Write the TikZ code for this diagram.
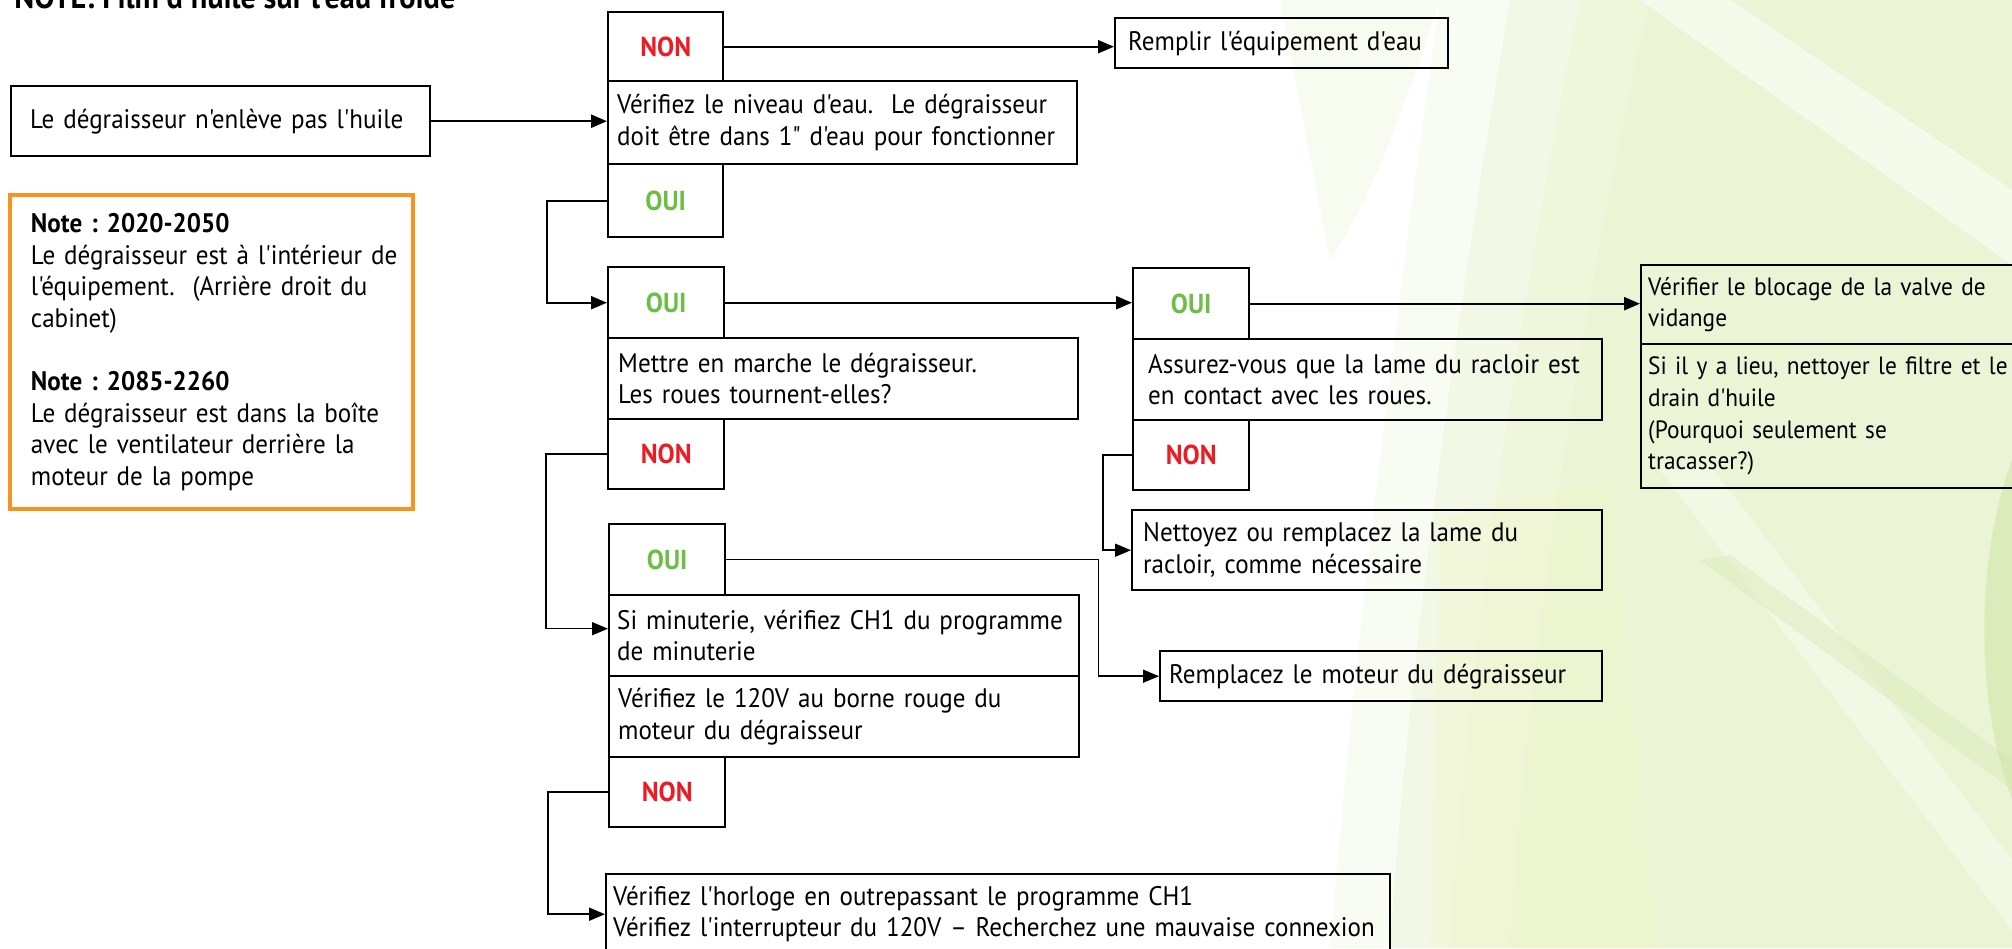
\documentclass[tikz,border=0pt]{standalone}
\usepackage{fontspec}
\setmainfont{PT Sans}[Ligatures=TeXOff, FakeStretch=0.935]
\usetikzlibrary{arrows.meta}
\definecolor{nonred}{RGB}{237,28,36}
\definecolor{ouigreen}{RGB}{108,190,69}
\definecolor{noteorange}{RGB}{247,147,30}
\definecolor{leafA}{RGB}{232,242,206}
\definecolor{leafB}{RGB}{210,230,168}
\definecolor{leafC}{RGB}{240,244,196}
\newcommand{\bodyfont}{\fontsize{13.4}{15.8}\selectfont}
\newcommand{\smallbody}{\fontsize{12.5}{15.8}\selectfont}
\frenchspacing
\begin{document}
\begin{tikzpicture}[x=0.5pt,y=-0.5pt,
  box/.style={draw, line width=1.2pt, anchor=north west, align=left, inner ysep=0pt, font=\bodyfont},
  lbl/.style={draw, line width=1.2pt, anchor=north west, inner sep=0pt, font=\bfseries\fontsize{13.7}{15}\selectfont},
  nonlbl/.style={lbl, text=nonred},
  ouilbl/.style={lbl, text=ouigreen},
  thk/.style={line width=1.2pt},
  med/.style={line width=1pt},
  thn/.style={line width=0.75pt},
  arr/.style={-{Triangle[length=8pt,width=6.5pt]}},
]
\useasboundingbox (0,0) rectangle (2012,948);
\clip (0,0) rectangle (2012,948);
% pale leaf background
\fill[leafA, opacity=.25] (1440,0) -- (2012,0) -- (2012,948) -- (1330,948) .. controls (1350,700) and (1390,350) .. (1440,0) -- cycle;
\fill[leafA, opacity=.35] (1510,0) -- (2012,0) -- (2012,948) -- (1390,948) .. controls (1405,700) and (1450,350) .. (1510,0) -- cycle;
\fill[leafA, opacity=.4] (1580,0) -- (2012,0) -- (2012,948) -- (1450,948) .. controls (1465,700) and (1510,350) .. (1580,0) -- cycle;
\fill[leafA, opacity=.4] (1650,0) -- (2012,0) -- (2012,948) -- (1510,948) .. controls (1525,700) and (1570,350) .. (1650,0) -- cycle;
\fill[leafC, opacity=.3] (1440,520) .. controls (1500,500) and (1560,490) .. (1610,480) -- (1660,948) -- (1430,948) -- cycle;
\fill[white, opacity=.5] (1640,0) -- (1730,0) -- (2012,190) -- (2012,265) -- cycle;
\fill[white, opacity=.35] (1660,470) -- (1710,465) -- (2012,860) -- (2012,930) -- cycle;
\fill[leafB, opacity=.35] (1700,560) -- (1730,555) -- (2012,760) -- (2012,790) -- cycle;
\fill[leafB, opacity=.6] (2012,460) .. controls (1975,560) and (1975,700) .. (2012,800) -- cycle;
\fill[leafA, opacity=.3] (1280,0) -- (1440,0) .. controls (1400,120) and (1370,200) .. (1330,260) -- cycle;

% title
\node[anchor=base west, inner sep=0pt, font=\bfseries\fontsize{16.2}{18}\selectfont] (title) at (14,8) {NOTE: Film d'huile sur l'eau froide};

% left column
\node[box, inner xsep=9.5pt, text width=190.5pt, minimum height=35pt] (A) at (10,85) {Le dégraisseur n'enlève pas l'huile};
\node[box, draw=noteorange, line width=2pt, inner xsep=10.5pt, text width=180.5pt, minimum height=157pt] (note) at (8,193)
  {\textbf{Note : 2020-2050}\\
   \mbox{Le dégraisseur est à l'intérieur de}\\
   l'équipement.\ \ (Arrière droit du\\
   cabinet)\\[15.8pt]
   \textbf{Note : 2085-2260}\\
   Le dégraisseur est dans la boîte\\
   avec le ventilateur derrière la\\
   moteur de la pompe};

% middle column
\node[nonlbl, minimum width=57.5pt, minimum height=34.5pt] (NON1) at (607,11) {NON};
\node[box, inner xsep=6.5pt, text width=153.5pt, minimum height=25pt] (R) at (1114,17) {\mbox{Remplir l'équipement d'eau}};
\node[box, inner xsep=4.5pt, text width=225.5pt, minimum height=41.5pt] (W) at (607,80) {Vérifiez le niveau d'eau.\ \ Le dégraisseur\\doit être dans 1" d'eau pour fonctionner};
\node[ouilbl, minimum width=57.5pt, minimum height=36.5pt] (OUI1) at (607,163) {OUI};
\node[ouilbl, minimum width=58pt, minimum height=35.5pt] (OUI2) at (607,266) {OUI};
\node[box, inner xsep=5pt, text width=225pt, minimum height=40.5pt] (M) at (607,337) {Mettre en marche le dégraisseur.\\Les roues tournent-elles?};
\node[nonlbl, minimum width=58pt, minimum height=35pt] (NON2) at (607,418) {NON};
\node[ouilbl, minimum width=58pt, minimum height=35.5pt] (OUI4) at (608,523) {OUI};
\node[box, inner xsep=4pt, text width=227pt, minimum height=40.5pt] (SI) at (608,594) {Si minuterie, vérifiez CH1 du programme\\de minuterie};
\node[box, inner xsep=4.5pt, text width=226pt, minimum height=40.5pt] (V120) at (608,675) {Vérifiez le 120V au borne rouge du\\moteur du dégraisseur};
\node[nonlbl, minimum width=58pt, minimum height=35pt] (NON4) at (608,756) {NON};
\node[box, inner xsep=3.5pt, text width=385pt, minimum height=40pt] (L) at (605,873) {\mbox{Vérifiez l'horloge en outrepassant le programme CH1}\\\mbox{Vérifiez l'interrupteur du 120V – Recherchez une mauvaise connexion}};

% right-middle column
\node[ouilbl, minimum width=58pt, minimum height=35.5pt] (OUI3) at (1132,267) {OUI};
\node[box, inner xsep=7.5pt, text width=219.5pt, minimum height=40.5pt] (AS) at (1132,338) {Assurez-vous que la lame du racloir est\\en contact avec les roues.};
\node[nonlbl, minimum width=58pt, minimum height=35pt] (NON3) at (1132,419) {NON};
\node[box, inner xsep=5.5pt, text width=224pt, minimum height=40pt] (NT) at (1131,509) {Nettoyez ou remplacez la lame du\\racloir, comme nécessaire};
\node[box, inner xsep=4.5pt, text width=212pt, minimum height=25pt] (RP) at (1159,650) {Remplacez le moteur du dégraisseur};

% right column
\node[box, font=\smallbody, inner xsep=3.5pt, text width=188pt, minimum height=39.5pt] (V1) at (1640,264) {\mbox{Vérifier le blocage de la valve de}\\vidange};
\node[box, font=\smallbody, inner xsep=3.5pt, text width=188pt, minimum height=72pt] (V2) at (1640,343) {\mbox{Si il y a lieu, nettoyer le filtre et le}\\drain d'huile\\(Pourquoi seulement se\\tracasser?)};

% connectors
\draw[thk, arr] (A.east) -- (A.east -| W.west);
\draw[med, arr] (NON1.east) -- (NON1.east -| R.west);
\draw[med, arr] (OUI1.west) -- ++(-60,0) |- (OUI2.west);
\draw[thk, arr] (OUI2.east) -- (OUI2.east -| OUI3.west);
\draw[thn, arr] (NON2.west) -- ++(-61,0) |- ([yshift=3.5pt]SI.west);
\draw[thk, arr] (OUI3.east) -- (OUI3.east -| V1.west);
\draw[thn, arr] (NON3.west) -- ++(-29,0) |- (NT.west);
\draw[thn, arr] (OUI4.east) -- ++(372,0) |- (RP.west);
\draw[med, arr] (NON4.west) -- ++(-60,0) |- (L.west);
\end{tikzpicture}
\end{document}
